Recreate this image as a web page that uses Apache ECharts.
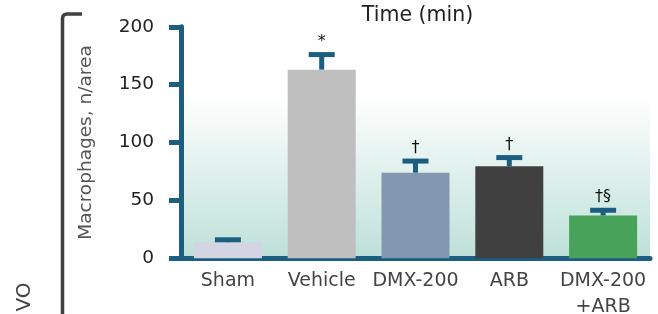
<!DOCTYPE html>
<html>
<head>
<meta charset="utf-8">
<script src="https://cdn.jsdelivr.net/npm/echarts@6/dist/echarts.min.js"></script>
<style>html,body{margin:0;padding:0;background:#fff}#c{width:658px;height:314px}</style>
</head>
<body>
<div id="c"></div>
<script>
var categories = ['Sham', 'Vehicle', 'DMX-200', 'ARB', 'DMX-200\n+ARB'];
var means = [14, 163, 74, 79.5, 37];
var errorTops = [16, 176, 84, 87, 41.5];
var annotations = ['', '*', '\u2020', '\u2020', '\u2020\u00a7'];
var barColors = ['#d3d6e2', '#bfbfbf', '#8497b0', '#404040', '#48a259'];
var yTicks = [0, 50, 100, 150, 200];

var FONT = '"DejaVu Sans", sans-serif';
var AXIS = '#1b5e7f';

var chart = echarts.init(document.getElementById('c'), null, {renderer: 'canvas'});

var barData = means.map(function (v, i) {
  return {value: v, itemStyle: {color: barColors[i]}};
});
var errData = means.map(function (v, i) { return [i, v, errorTops[i]]; });

chart.setOption({
  animation: false,
  grid: {
    left: 181, top: 26.8, width: 469, bottom: 55.7,
    outerBoundsMode: 'none',
    containLabel: false,
    show: true, borderWidth: 0,
    backgroundColor: new echarts.graphic.LinearGradient(0, 0, 0, 1, [
      {offset: 0, color: '#ffffff'},
      {offset: 0.3, color: '#ffffff'},
      {offset: 1, color: '#bde0d8'}
    ])
  },
  xAxis: {
    type: 'category',
    data: categories,
    axisLine: {lineStyle: {color: AXIS, width: 5}},
    axisTick: {show: false},
    axisLabel: {
      interval: 0,
      fontFamily: FONT, fontSize: 19, color: '#444', margin: 10, lineHeight: 26
    }
  },
  yAxis: {
    type: 'value',
    min: 0, max: 200, interval: 50,
    name: 'Macrophages, n/area',
    nameLocation: 'middle', nameGap: 85,
    nameTextStyle: {fontFamily: FONT, fontSize: 18.5, color: '#555'},
    axisLine: {show: true, lineStyle: {color: AXIS, width: 5}},
    axisTick: {show: true, length: 12, lineStyle: {color: AXIS, width: 5}},
    splitLine: {show: false},
    axisLabel: {
      fontFamily: FONT, fontSize: 18.5, color: '#222', margin: 27,
      formatter: function (v) { return yTicks.indexOf(v) >= 0 ? String(v) : ''; }
    }
  },
  graphic: [
    {
      type: 'text', x: 417.5, y: 15.5, z: 10,
      style: {text: 'Time (min)', font: '20.5px "DejaVu Sans", sans-serif', fill: '#222',
              textAlign: 'center', textVerticalAlign: 'middle'}
    },
    {
      type: 'polyline', z: 10,
      shape: {points: [[82, 14], [67, 14], [64.5, 14.6], [63.1, 16], [62.5, 18.5], [62.5, 320]]},
      style: {fill: null, stroke: '#404040', lineWidth: 3.5}
    },
    {
      type: 'text', x: 25, y: 297, rotation: Math.PI / 2, z: 10,
      style: {text: 'VO', font: '20px "DejaVu Sans", sans-serif', fill: '#404040',
              textAlign: 'center', textVerticalAlign: 'middle'}
    }
  ],
  series: [
    {
      type: 'bar',
      data: barData,
      barWidth: 68,
      z: 2
    },
    {
      type: 'custom',
      data: errData,
      z: 5,
      renderItem: function (params, api) {
        var idx = api.value(0);
        var pTop = api.coord([idx, api.value(2)]);
        var pMean = api.coord([idx, api.value(1)]);
        var ann = annotations[params.dataIndex];
        return {
          type: 'group',
          children: [
            {type: 'rect', shape: {x: pTop[0] - 2.5, y: pTop[1], width: 5, height: Math.max(0, pMean[1] - pTop[1])},
             style: {fill: AXIS}},
            {type: 'rect', shape: {x: pTop[0] - 13, y: pTop[1] - 2.5, width: 26, height: 5},
             style: {fill: AXIS}},
            {type: 'text', x: pTop[0], y: pTop[1] - 5,
             style: {text: ann, font: '16px "DejaVu Sans", sans-serif', fill: '#111',
                     textAlign: 'center', textVerticalAlign: 'bottom'}}
          ]
        };
      }
    }
  ]
});
</script>
</body>
</html>
